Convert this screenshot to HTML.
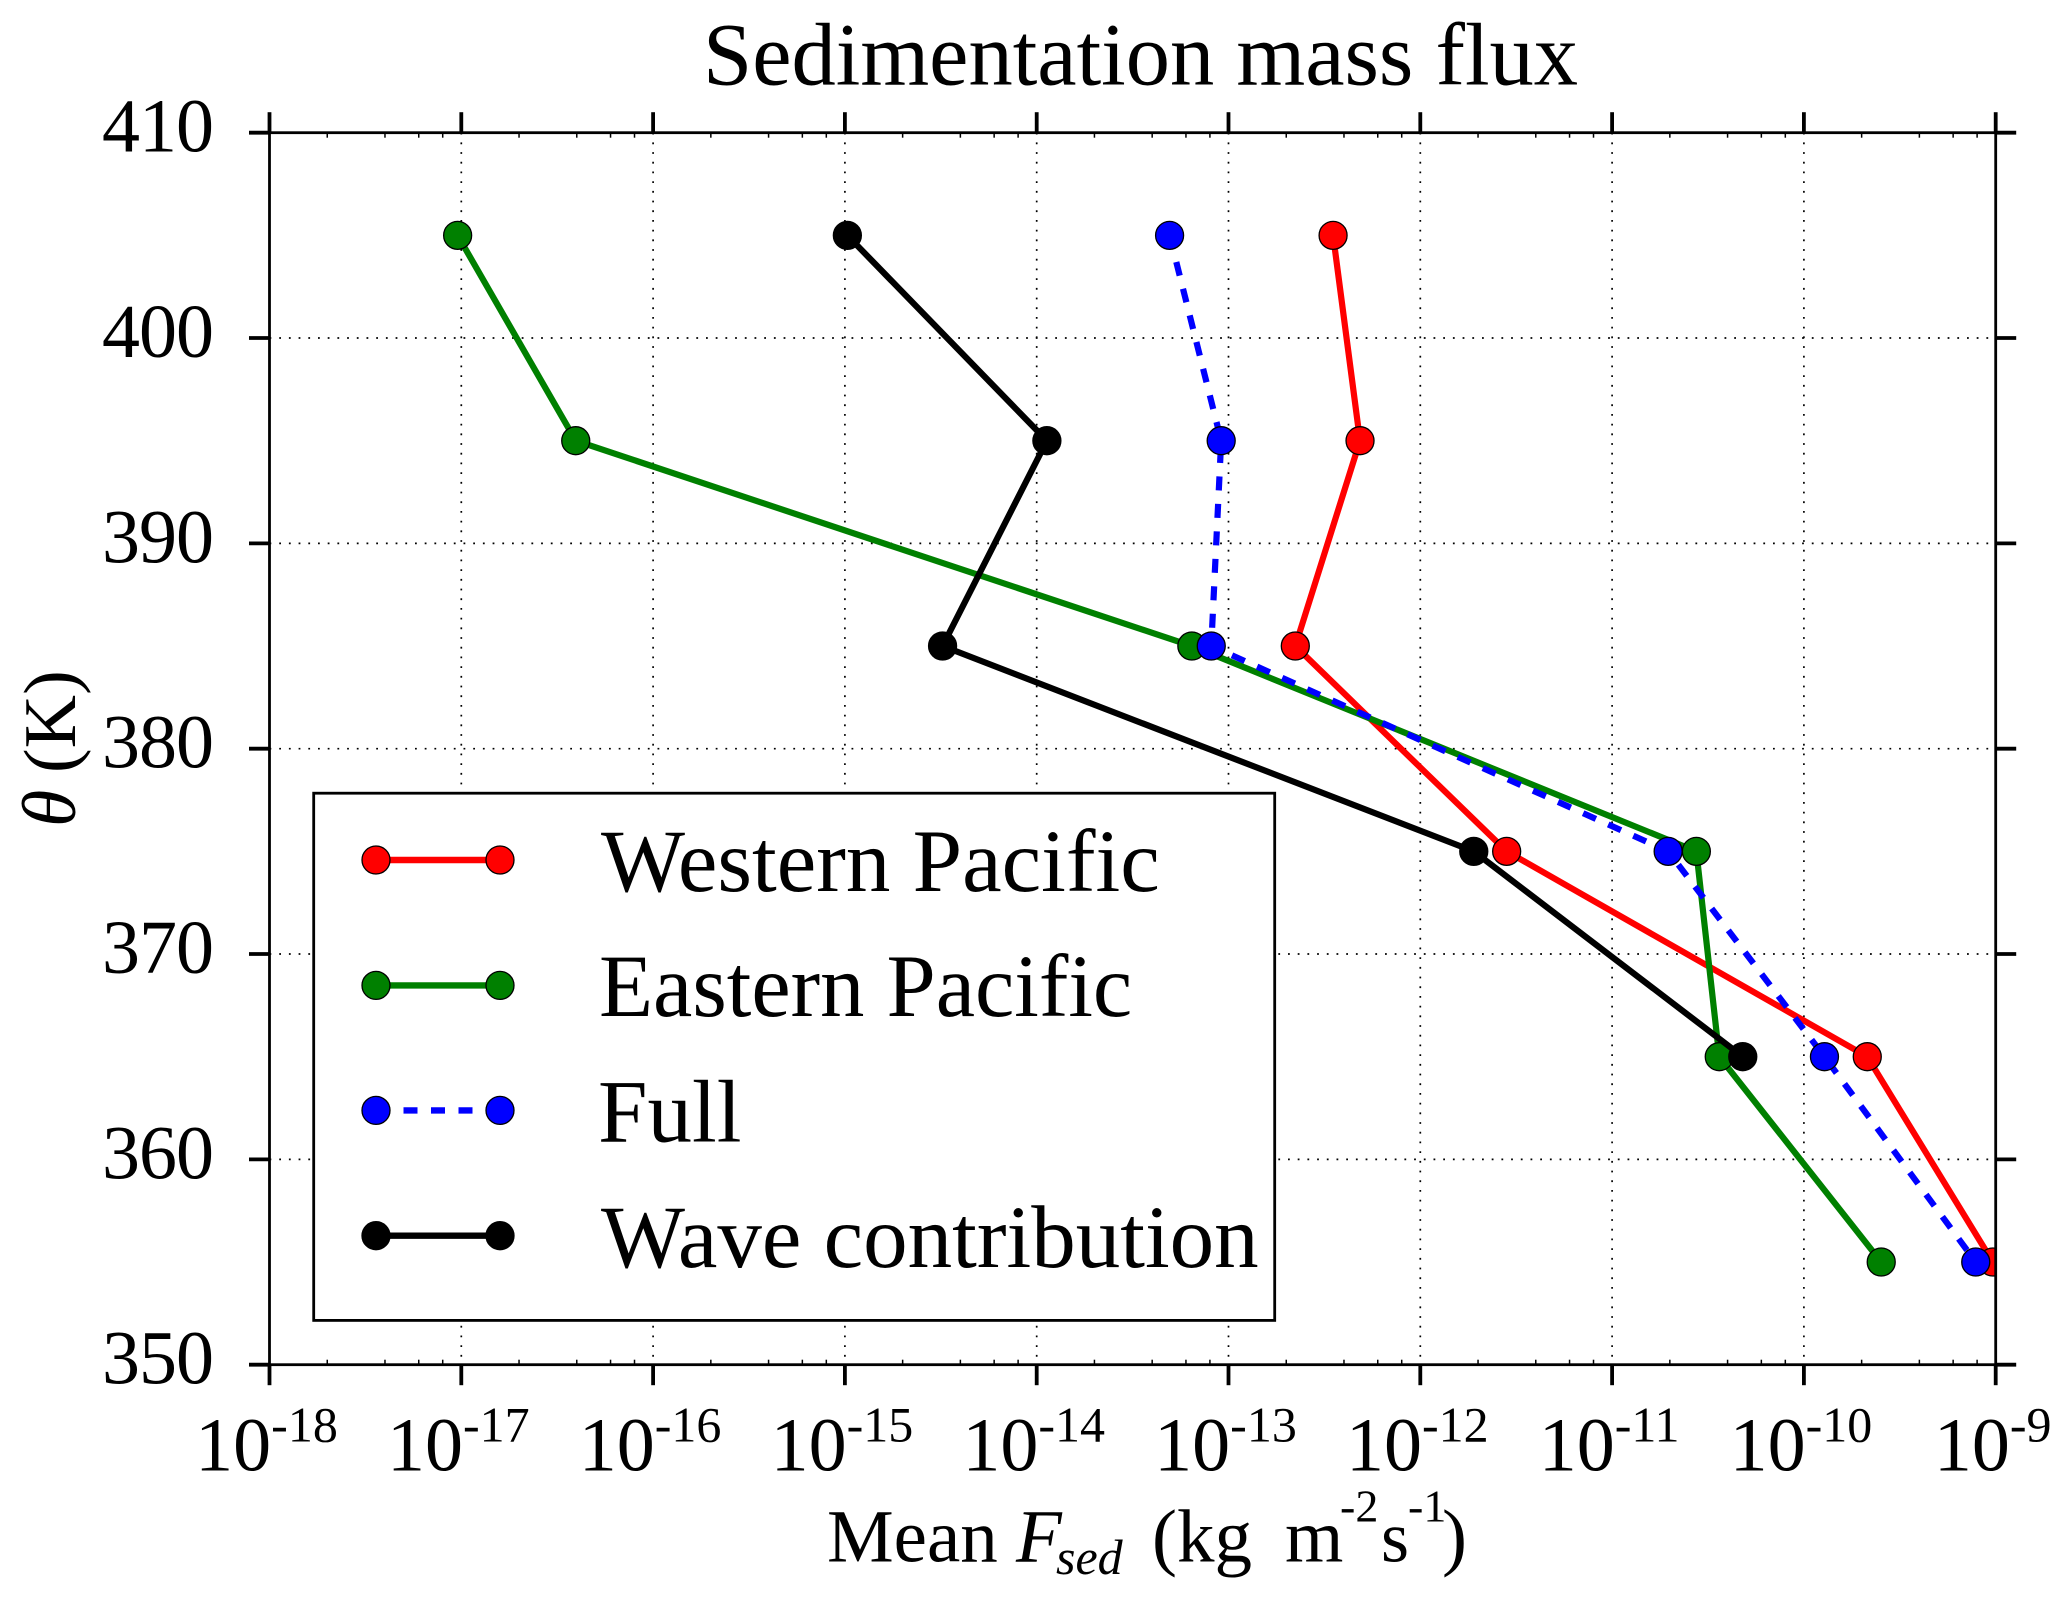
<!DOCTYPE html>
<html lang="en">
<head>
<meta charset="utf-8">
<title>Sedimentation mass flux</title>
<style>
html,body{margin:0;padding:0;background:#fff;}
svg{display:block;}
text{font-family:"Liberation Serif",serif;fill:#000;font-variant-ligatures:none;}
</style>
</head>
<body>
<svg id="chart" xmlns="http://www.w3.org/2000/svg" width="2067" height="1598" viewBox="0 0 2067 1598">
<rect x="0" y="0" width="2067" height="1598" fill="#fff"/>
<defs><clipPath id="plot-clip"><rect x="269.5" y="132.7" width="1726.2" height="1232"/></clipPath></defs>
<g id="grid"></g>
<g id="series" clip-path="url(#plot-clip)"></g>
<rect x="269.5" y="132.7" width="1726.2" height="1232" fill="none" stroke="#000" stroke-width="2.8"/>
<g id="ticks"></g>
<g id="labels"></g>
<text x="703" y="84.3" font-size="88.5">Sedimentation mass flux</text>
<text transform="translate(75,827) rotate(-90)" font-size="74"><tspan font-style="italic" font-size="76">θ</tspan><tspan x="54" y="0">(K)</tspan></text>
<text y="1561.7" font-size="75"><tspan x="827">Mean</tspan><tspan x="1016" font-style="italic">F</tspan><tspan x="1056" y="1574" font-size="50" font-style="italic">sed</tspan><tspan x="1152" y="1561.7">(kg</tspan><tspan x="1285" y="1561.7">m</tspan><tspan x="1340" y="1521.7" font-size="46">-2</tspan><tspan x="1381" y="1561.7" font-size="72">s</tspan><tspan x="1408" y="1521.7" font-size="46">-1</tspan><tspan x="1442" y="1561.7">)</tspan></text>
<g>
<rect x="313.7" y="793.2" width="961" height="527.2" fill="#fff" stroke="#000" stroke-width="2.8"/>
<g>
<line x1="376" y1="860" x2="500" y2="860" stroke="#f00" stroke-width="6.4"/>
<circle cx="376" cy="860" r="14" fill="#f00" stroke="#000" stroke-width="1.3"/>
<circle cx="500" cy="860" r="14" fill="#f00" stroke="#000" stroke-width="1.3"/>
<text x="601" y="891" font-size="89">Western Pacific</text>
</g>
<g>
<line x1="376" y1="985.4" x2="500" y2="985.4" stroke="#008000" stroke-width="6.4"/>
<circle cx="376" cy="985.4" r="14" fill="#008000" stroke="#000" stroke-width="1.3"/>
<circle cx="500" cy="985.4" r="14" fill="#008000" stroke="#000" stroke-width="1.3"/>
<text x="599" y="1016" font-size="88.5">Eastern Pacific</text>
</g>
<g>
<line x1="376" y1="1110.4" x2="500" y2="1110.4" stroke="#00f" stroke-width="6.4" stroke-dasharray="14 13.5"/>
<circle cx="376" cy="1110.4" r="14" fill="#00f" stroke="#000" stroke-width="1.3"/>
<circle cx="500" cy="1110.4" r="14" fill="#00f" stroke="#000" stroke-width="1.3"/>
<text x="598" y="1141.5" font-size="89">Full</text>
</g>
<g>
<line x1="376" y1="1235.7" x2="500" y2="1235.7" stroke="#000" stroke-width="6.4"/>
<circle cx="376" cy="1235.7" r="14" fill="#000" stroke="#000" stroke-width="1.3"/>
<circle cx="500" cy="1235.7" r="14" fill="#000" stroke="#000" stroke-width="1.3"/>
<text x="601" y="1267" font-size="89">Wave contribution</text>
</g>
</g>
<script>
var thetaLevels = [405, 395, 385, 375, 365, 355];
var westernPacific = [3.51e-13, 4.85e-13, 2.23e-13, 2.82e-12, 2.14e-10, 9.66e-10];
var easternPacific = [9.57e-18, 3.95e-17, 6.44e-14, 2.75e-11, 3.62e-11, 2.53e-10];
var fullFlux = [4.93e-14, 9.16e-14, 8.13e-14, 1.96e-11, 1.28e-10, 7.87e-10];
var waveContribution = [1.03e-15, 1.13e-14, 3.23e-15, 1.90e-12, 4.80e-11];
var xTickExponents = [-18, -17, -16, -15, -14, -13, -12, -11, -10, -9];
var yTickValues = [350, 360, 370, 380, 390, 400, 410];
var minorMultipliers = [2, 4, 6, 8];

var NS = 'http://www.w3.org/2000/svg';
var plotLeft = 269.5, plotRight = 1995.7, plotTop = 132.7, plotBottom = 1364.7;
var xMinExp = -18, xMaxExp = -9, yMin = 350, yMax = 410;

function xLog(exp) { return plotLeft + (exp - xMinExp) / (xMaxExp - xMinExp) * (plotRight - plotLeft); }
function xScale(v) { return xLog(Math.log10(v)); }
function yScale(t) { return plotBottom - (t - yMin) / (yMax - yMin) * (plotBottom - plotTop); }

function makeLine(x1, y1, x2, y2, stroke, width, dash) {
  var l = document.createElementNS(NS, 'line');
  l.setAttribute('x1', x1); l.setAttribute('y1', y1);
  l.setAttribute('x2', x2); l.setAttribute('y2', y2);
  l.setAttribute('stroke', stroke); l.setAttribute('stroke-width', width);
  if (dash) l.setAttribute('stroke-dasharray', dash);
  return l;
}

var gridG = document.getElementById('grid');
var ticksG = document.getElementById('ticks');
var labelsG = document.getElementById('labels');
var seriesG = document.getElementById('series');
var GRID_DASH = '1.8 7.9';

xTickExponents.forEach(function (e) {
  var x = xLog(e);
  if (e !== xMinExp && e !== xMaxExp) {
    var g = makeLine(x, plotTop, x, plotBottom, '#000', 1.7, GRID_DASH);
    
    
    gridG.appendChild(g);
  }
  var t1 = makeLine(x, plotTop - 20.5, x, plotTop, '#000', 3.8);
  
  
  ticksG.appendChild(t1);
  var t2 = makeLine(x, plotBottom, x, plotBottom + 20.5, '#000', 3.8);
  
  
  ticksG.appendChild(t2);

  var label = document.createElementNS(NS, 'text');
  
  
  label.setAttribute('x', x - 3);
  label.setAttribute('y', 1470.7);
  label.setAttribute('text-anchor', 'middle');
  label.setAttribute('font-size', '76');
  var base = document.createElementNS(NS, 'tspan');
  base.textContent = '10';
  label.appendChild(base);
  var sup = document.createElementNS(NS, 'tspan');
  sup.setAttribute('font-size', '50');
  sup.setAttribute('dy', '-29');
  sup.textContent = '-' + Math.abs(e);
  label.appendChild(sup);
  labelsG.appendChild(label);

  if (e !== xMaxExp) {
    minorMultipliers.forEach(function (m) {
      var mx = xLog(e + Math.log10(m));
      var a = makeLine(mx, plotTop, mx, plotTop + 5, '#000', 1.5);
      
      
      ticksG.appendChild(a);
      var b = makeLine(mx, plotBottom - 5, mx, plotBottom, '#000', 1.5);
      
      
      ticksG.appendChild(b);
    });
  }
});

yTickValues.forEach(function (v) {
  var y = yScale(v);
  if (v !== yMin && v !== yMax) {
    var g = makeLine(plotLeft, y, plotRight, y, '#000', 1.7, GRID_DASH);
    
    
    gridG.appendChild(g);
  }
  var t1 = makeLine(plotLeft - 20.5, y, plotLeft, y, '#000', 3.8);
  
  
  ticksG.appendChild(t1);
  var t2 = makeLine(plotRight, y, plotRight + 20.5, y, '#000', 3.8);
  
  
  ticksG.appendChild(t2);
  var label = document.createElementNS(NS, 'text');
  
  
  label.setAttribute('x', 213);
  label.setAttribute('y', y + 19);
  label.setAttribute('text-anchor', 'end');
  label.setAttribute('font-size', '76');
  label.setAttribute('letter-spacing', '-1');
  label.textContent = String(v);
  labelsG.appendChild(label);
});

function drawSeries(values, color, dash, seriesName) {
  var group = document.createElementNS(NS, 'g');
  
  
  var pts = values.map(function (v, i) { return xScale(v) + ',' + yScale(thetaLevels[i]); }).join(' ');
  var line = document.createElementNS(NS, 'polyline');
  
  
  line.setAttribute('points', pts);
  line.setAttribute('fill', 'none');
  line.setAttribute('stroke', color);
  line.setAttribute('stroke-width', '6.2');
  line.setAttribute('stroke-linejoin', 'round');
  if (dash) line.setAttribute('stroke-dasharray', dash);
  group.appendChild(line);
  values.forEach(function (v, i) {
    var c = document.createElementNS(NS, 'circle');
    
    
    c.setAttribute('cx', xScale(v));
    c.setAttribute('cy', yScale(thetaLevels[i]));
    c.setAttribute('r', '14');
    c.setAttribute('fill', color);
    c.setAttribute('stroke', '#000');
    c.setAttribute('stroke-width', '1.3');
    group.appendChild(c);
  });
  seriesG.appendChild(group);
}

drawSeries(westernPacific, '#ff0000', null, 'western-pacific');
drawSeries(easternPacific, '#008000', null, 'eastern-pacific');
drawSeries(fullFlux, '#0000ff', '14 13.5', 'full');
drawSeries(waveContribution, '#000000', null, 'wave-contribution');
</script>
</svg>
</body>
</html>
